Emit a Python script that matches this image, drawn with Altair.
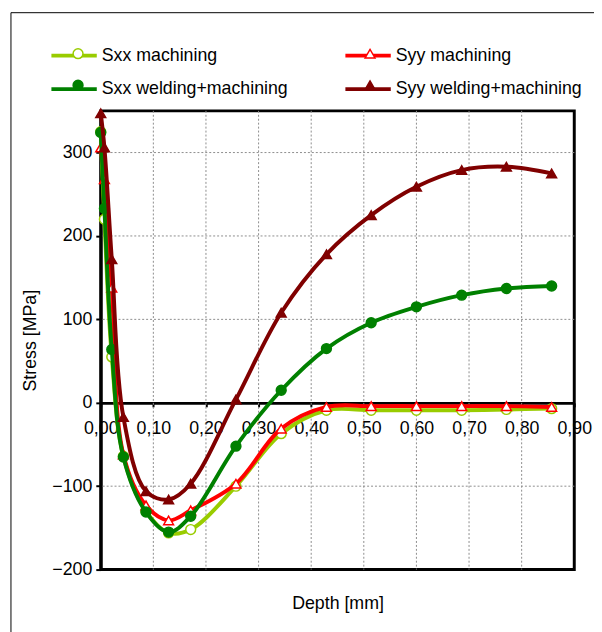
import altair as alt
import pandas as pd

# ---- data ----
depth = [0.0, 0.007, 0.021, 0.043, 0.086, 0.129, 0.171, 0.257, 0.343, 0.429, 0.514, 0.600, 0.686, 0.771, 0.857]
sxx_machining = [325, 220, 55, -64, -130, -156, -152, -100, -37, -9, -9, -9, -9, -8, -7]
syy_machining = [306, 268, 138, -62, -123, -141, -129, -97, -31, -5, -4, -4, -4, -4, -5]
sxx_welding = [324, 233, 64, -65, -131, -155, -136, -52, 15, 65, 96, 115, 129, 137, 140]
syy_welding = [347, 306, 172, -17, -106, -116, -97, 4, 108, 178, 225, 259, 279, 283, 275]

series_names = ["Sxx machining", "Syy machining", "Sxx welding+machining", "Syy welding+machining"]
line_colors = ["#99CC00", "#FF0000", "#008000", "#800000"]
marker_fills = ["#FFFFFF", "#FFFFFF", "#008000", "#800000"]
marker_shapes = ["circle", "triangle-up", "circle", "triangle-up"]

x_ticks = [0.0, 0.1, 0.2, 0.3, 0.4, 0.5, 0.6, 0.7, 0.8, 0.9]
y_ticks = [-200, -100, 0, 100, 200, 300]
x_grid = [0.1, 0.2, 0.3, 0.4, 0.5, 0.6, 0.7, 0.8]
y_grid = [-100, 100, 200, 300]

# marker legend uses a separate (suffixed) key so it is not merged with the line legend
marker_keys = [n + " " for n in series_names]

rows = []
for name, key, vals in zip(series_names, marker_keys,
                           [sxx_machining, syy_machining, sxx_welding, syy_welding]):
    for d, v in zip(depth, vals):
        rows.append({"series": name, "series2": key, "depth": d, "stress": v})
df = pd.DataFrame(rows)

FONT = "Liberation Sans"
FS = 18

x_scale = alt.Scale(domain=[0, 0.9], nice=False, zero=False)
y_scale = alt.Scale(domain=[-200, 350], nice=False, zero=False)

x_axis = alt.Axis(
    values=x_ticks,
    labelExpr="replace(format(datum.value, '.2f'), '.', ',')",
    offset=-169,
    grid=False,
    domainColor="black", domainWidth=3,
    tickColor="black", tickSize=4, tickWidth=2,
    labelPadding=13, labelFlush=False, labelOverlap=False,
    labelFont=FONT, labelFontSize=FS, labelColor="black",
    title="Depth [mm]", titleFont=FONT, titleFontSize=FS, titleFontWeight="normal",
    titleColor="black", titleY=208, titleBaseline="alphabetic",
)
y_axis = alt.Axis(
    values=y_ticks,
    grid=False,
    domainColor="black", domainWidth=3,
    tickColor="black", tickSize=5, tickWidth=2,
    labelPadding=4, labelFont=FONT, labelFontSize=FS, labelColor="black",
    title="Stress [MPa]", titleFont=FONT, titleFontSize=FS, titleFontWeight="normal",
    titleColor="black", titleX=-71, titleBaseline="middle",
)

X = alt.X("depth:Q", scale=x_scale, axis=x_axis)
Y = alt.Y("stress:Q", scale=y_scale, axis=y_axis)

legend_lines = alt.Legend(
    title=None, orient="none", direction="horizontal", legendX=-52, legendY=-81, columns=2,
    symbolType="stroke", symbolSize=2116, symbolStrokeWidth=4,
    labelFont=FONT, labelFontSize=FS, labelColor="black", labelOffset=3, labelLimit=400,
    columnPadding=50, rowPadding=-17, padding=0, zindex=1,
)
legend_markers = alt.Legend(
    title=None, orient="none", direction="horizontal", legendX=-32, legendY=-67, columns=2,
    symbolSize=100, symbolStrokeWidth=1.5, symbolOpacity=1,
    labelExpr="''", labelOffset=0, labelFontSize=FS,
    columnPadding=278, rowPadding=14, padding=0, zindex=2,
)

color_scale = alt.Scale(domain=series_names, range=line_colors)
stroke_scale = alt.Scale(domain=marker_keys, range=line_colors)
fill_scale = alt.Scale(domain=marker_keys, range=marker_fills)
shape_scale = alt.Scale(domain=marker_keys, range=marker_shapes)

base = alt.Chart(df)

frame = alt.Chart(alt.Data(values=[{}])).mark_rect(
    filled=False, color="black", strokeWidth=1
).encode(
    x=alt.value(-91), x2=alt.value(700), y=alt.value(-99.5), y2=alt.value(700)
)

vgrid = alt.Chart(pd.DataFrame({"depth": x_grid})).mark_rule(
    color="#8c8c8c", strokeDash=[2, 2], strokeWidth=1
).encode(x=X)
hgrid = alt.Chart(pd.DataFrame({"stress": y_grid})).mark_rule(
    color="#8c8c8c", strokeDash=[2, 2], strokeWidth=1
).encode(y=Y)

layers = [frame, vgrid, hgrid]
for name, key in zip(series_names, marker_keys):
    line = base.transform_filter(alt.datum.series == name).mark_line(
        strokeWidth=4, interpolate="catmull-rom"
    ).encode(
        x=X, y=Y,
        color=alt.Color("series:N", scale=color_scale, legend=legend_lines),
    )
    pts = base.transform_filter(alt.datum.series == name).mark_point(
        filled=True, size=100, strokeWidth=1.5, opacity=1
    ).encode(
        x=X, y=Y,
        shape=alt.Shape("series2:N", scale=shape_scale, legend=legend_markers),
        fill=alt.Fill("series2:N", scale=fill_scale, legend=legend_markers),
        stroke=alt.Stroke("series2:N", scale=stroke_scale, legend=legend_markers),
    )
    layers += [line, pts]

chart = alt.layer(*layers).properties(
    width=480, height=465,
    autosize=alt.AutoSizeParams(type="none"),
    padding={"left": 94, "top": 100, "right": 20, "bottom": 59},
    background="white",
).configure_view(stroke="black", strokeWidth=3)

chart.save("out.html", embed_options={"renderer": "svg", "actions": False})
